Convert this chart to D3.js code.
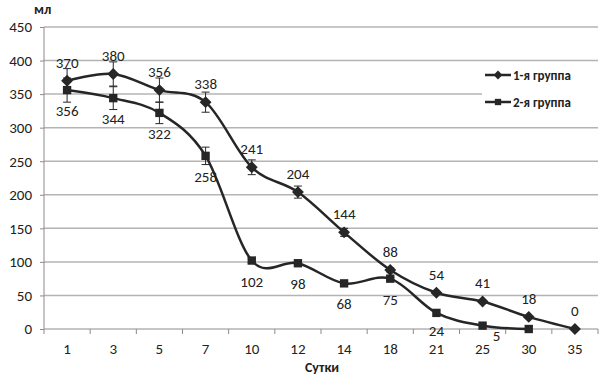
<!DOCTYPE html>
<html>
<head>
<meta charset="utf-8">
<script src="https://cdn.jsdelivr.net/npm/d3@7"></script>
<style>
	body { margin: 0; background: white; }
	text { font-family: Calibri, Carlito, 'Liberation Sans', Arial, sans-serif; fill: #222; }
	.axis path, .axis line { stroke: #8c8c8c; }
	.axis text { font-size: 15px; }
</style>
</head>
<body>
<div></div>
<script>
var days = ['1', '3', '5', '7', '10', '12', '14', '18', '21', '25', '30', '35'];
var group1 = [370, 380, 356, 338, 241, 204, 144, 88, 54, 41, 18, 0];
var group1_err = [18, 18, 18, 15, 11, 9, 6, 3, 0, 0, 0, 0];
var group2 = [356, 344, 322, 258, 102, 98, 68, 75, 24, 5, 0];
var group2_err = [18, 17, 16, 13, 3, 2, 2, 2, 0, 0, 0];
var group2_labels = ['356', '344', '322', '258', '102', '98', '68', '75', '24', '5', null];
var y_ticks = [0, 50, 100, 150, 200, 250, 300, 350, 400, 450];
var names = ['1-я группа', '2-я группа'];

var margin = {top: 27, right: 2, bottom: 47, left: 44};
var width = 600 - margin.left - margin.right;
var height = 376 - margin.top - margin.bottom;
var ink = '#262626';

var svg = d3.select('div')
	.append('svg')
		.attr('width', 600)
		.attr('height', 376);

// unit label
svg.append('text')
	.attr('x', 34)
	.attr('y', 14)
	.text('мл')
	.style('font-weight', 'bold')
	.style('font-size', '14px');

// x-axis label
svg.append('text')
	.attr('text-anchor', 'middle')
	.attr('x', 322)
	.attr('y', 372)
	.text('Сутки')
	.style('font-weight', 'bold')
	.style('font-size', '14px');

var g = svg.append('g')
	.attr('transform', 'translate(' + margin.left + ',' + margin.top + ')');

var x = d3.scaleBand()
	.domain(days)
	.range([0, width]);

var y = d3.scaleLinear()
	.domain([0, 450])
	.range([height, 0]);

// gridlines
g.append('g')
	.selectAll('line')
	.data(y_ticks.slice(1))
	.enter()
	.append('line')
		.attr('x1', 0)
		.attr('x2', width)
		.attr('y1', function(d) { return y(d); })
		.attr('y2', function(d) { return y(d); })
		.style('stroke', '#b4b4b4')
		.style('stroke-width', 1.5);

// y axis
var y_axis = g.append('g')
	.attr('class', 'axis')
	.call(d3.axisLeft(y).tickValues(y_ticks).tickSize(4).tickPadding(8));
y_axis.select('.domain').attr('d', 'M0,' + height + 'V0');

// x axis
var x_axis = g.append('g')
	.attr('class', 'axis')
	.attr('transform', 'translate(0,' + height + ')')
	.call(d3.axisBottom(x).tickSize(0).tickPadding(14));
x_axis.select('.domain').attr('d', 'M0,0H' + width);
x_axis.selectAll('.sep')
	.data(d3.range(days.length + 1))
	.enter()
	.append('line')
		.attr('class', 'sep')
		.attr('x1', function(d) { return d * x.bandwidth(); })
		.attr('x2', function(d) { return d * x.bandwidth(); })
		.attr('y1', 0)
		.attr('y2', 5);

var cx = function(d, i) { return x(days[i]) + x.bandwidth() / 2; };

var line = d3.line()
	.x(cx)
	.y(function(d) { return y(d); })
	.curve(d3.curveCatmullRom.alpha(0));

// legend backdrop (hides the gridline behind it)
svg.append('rect')
	.attr('x', 482)
	.attr('y', 64)
	.attr('width', 118)
	.attr('height', 58)
	.style('fill', 'white');

function draw_series(values, errs, labels, symbol, size, label_y) {
	var s = g.append('g');

	// error bars
	var eb = s.selectAll('.err')
		.data(values)
		.enter()
		.append('g')
			.filter(function(d, i) { return errs[i] > 0; });
	eb.append('line')
		.attr('x1', cx).attr('x2', cx)
		.attr('y1', function(d, i) { return y(d + errs[i]); })
		.attr('y2', function(d, i) { return y(d - errs[i]); })
		.style('stroke', ink);
	eb.append('line')
		.attr('x1', function(d, i) { return cx(d, i) - 4; })
		.attr('x2', function(d, i) { return cx(d, i) + 4; })
		.attr('y1', function(d, i) { return y(d + errs[i]); })
		.attr('y2', function(d, i) { return y(d + errs[i]); })
		.style('stroke', ink);
	eb.append('line')
		.attr('x1', function(d, i) { return cx(d, i) - 4; })
		.attr('x2', function(d, i) { return cx(d, i) + 4; })
		.attr('y1', function(d, i) { return y(d - errs[i]); })
		.attr('y2', function(d, i) { return y(d - errs[i]); })
		.style('stroke', ink);

	s.append('path')
		.datum(values)
		.attr('d', line)
		.style('fill', 'none')
		.style('stroke', ink)
		.style('stroke-width', 2.5);

	s.selectAll('.mark')
		.data(values)
		.enter()
		.append('path')
			.attr('transform', function(d, i) { return 'translate(' + cx(d, i) + ',' + y(d) + ')'; })
			.attr('d', d3.symbol().type(symbol).size(size))
			.style('fill', ink);

	s.selectAll('.lbl')
		.data(values)
		.enter()
		.append('text')
			.attr('text-anchor', 'middle')
			.attr('x', cx)
			.attr('y', label_y)
			.attr('dx', function(d, i) { return labels[i] === '5' ? 14 : 0; })
			.text(function(d, i) { return labels[i]; })
			.style('font-size', '15px');
}

draw_series(group1, group1_err, group1.map(String), d3.symbolDiamond2, 90,
	function(d) { return y(d) - 13; });
draw_series(group2, group2_err, group2_labels, d3.symbolSquare, 70,
	function(d, i) { return group2_labels[i] === '5' ? y(d) + 15 : Math.min(y(d) + 26, height + 7); });

// legend
var legend = svg.selectAll('.legend')
	.data(names)
	.enter()
	.append('g')
		.attr('transform', function(d, i) { return 'translate(485,' + (75 + i * 27) + ')'; });
legend.append('line')
	.attr('x1', 0).attr('x2', 26)
	.style('stroke', ink)
	.style('stroke-width', 2.5);
legend.append('path')
	.attr('transform', 'translate(13,0)')
	.attr('d', function(d, i) { return d3.symbol().type(i == 0 ? d3.symbolDiamond2 : d3.symbolSquare).size(i == 0 ? 50 : 40)(); })
	.style('fill', ink);
legend.append('text')
	.attr('x', 28)
	.attr('y', 5)
	.text(function(d) { return d; })
	.style('font-weight', 'bold')
	.style('font-size', '13px');
</script>
</body>
</html>
